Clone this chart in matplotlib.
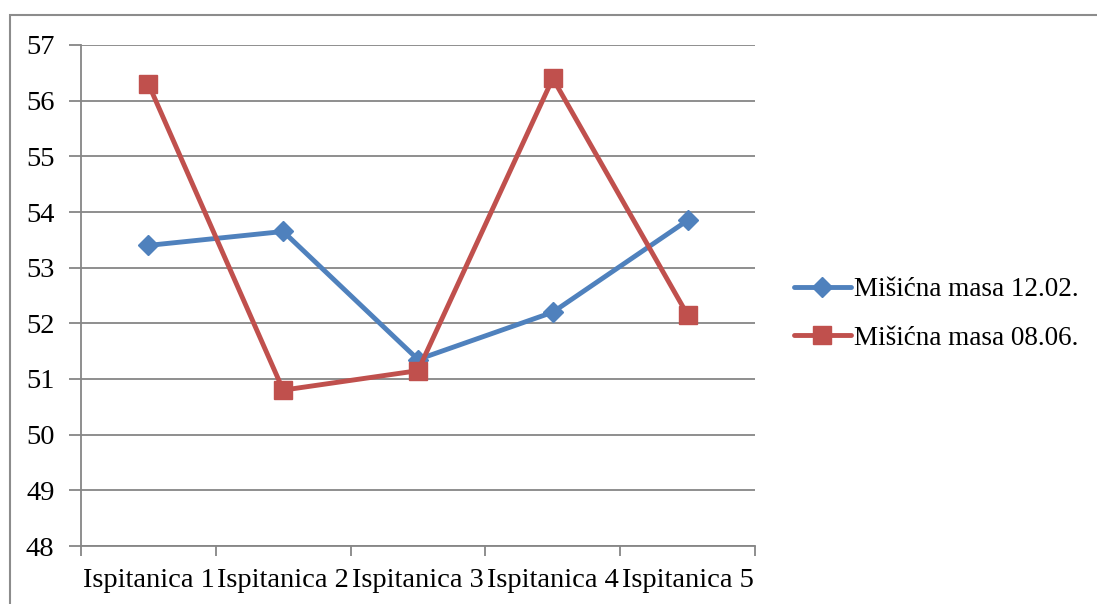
import matplotlib
matplotlib.use("Agg")
import matplotlib.pyplot as plt
from matplotlib.patches import Rectangle

categories = ["Ispitanica 1", "Ispitanica 2", "Ispitanica 3", "Ispitanica 4", "Ispitanica 5"]
masa_1202 = [53.4, 53.65, 51.35, 52.2, 53.85]
masa_0806 = [56.3, 50.8, 51.15, 56.4, 52.15]
series_names = ["Mišićna masa 12.02.", "Mišićna masa 08.06."]

plt.rcParams['font.family'] = ['Liberation Serif', 'DejaVu Serif']
grid_col = '#868686'
fs = 20.5

fig = plt.figure(figsize=(10.97, 6.04), dpi=100)
# outer chart frame
fig.patches.append(Rectangle((10 / 1097, -0.01), 1.02, (604 - 15) / 604 + 0.01,
                             transform=fig.transFigure, fill=False,
                             edgecolor='#8c8c8c', linewidth=1.5))

ax = fig.add_axes([81 / 1097, 1 - 546 / 604, (755 - 81) / 1097, (546 - 45) / 604])
x = range(len(categories))
ax.plot(x, masa_1202, color='#4F81BD', linewidth=3.5, marker='D', markersize=10,
        label=series_names[0], solid_capstyle='round')
ax.plot(x, masa_0806, color='#C0504D', linewidth=3.5, marker='s', markersize=13,
        label=series_names[1], solid_capstyle='round')

ax.set_xlim(-0.5, 4.5)
ax.set_ylim(48, 57)
ax.set_yticks(range(48, 58))
ax.set_xticks([i - 0.5 for i in range(6)])
ax.set_xticklabels([])
ax.set_xticks(list(x), minor=True)
ax.set_xticklabels(categories, minor=True, fontsize=fs)
ax.tick_params(axis='x', which='minor', length=0, pad=16)
ax.tick_params(axis='x', which='major', length=7, color=grid_col, width=1.3)
ax.tick_params(axis='y', length=9, color=grid_col, width=1.3, labelsize=fs, pad=10)
ax.yaxis.grid(True, color=grid_col, linewidth=1.3)
ax.set_axisbelow(True)
for s in ['top', 'right']:
    ax.spines[s].set_visible(False)
for s in ['left', 'bottom']:
    ax.spines[s].set_color(grid_col)
    ax.spines[s].set_linewidth(1.3)

leg = fig.legend(loc='center left', bbox_to_anchor=(794 / 1097, 1 - 314 / 604),
                 frameon=False, fontsize=19.5, handlelength=2.1, handletextpad=0.1,
                 labelspacing=0.85, borderpad=0, borderaxespad=0)

fig.savefig("out.png", dpi=100)
